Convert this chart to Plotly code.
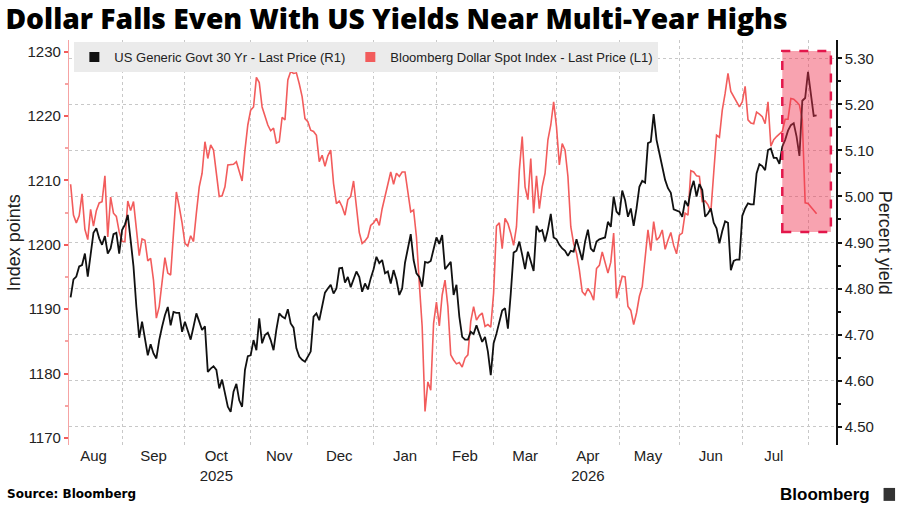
import pandas as pd
import plotly.graph_objects as go

# ---------------- data ----------------
start_date = "2025-08-06"

yield_30y = [
    4.781, 4.820, 4.826, 4.848, 4.851, 4.876, 4.826, 4.876, 4.921, 4.931,
    4.909, 4.895, 4.914, 4.876, 4.887, 4.918, 4.921, 4.876, 4.927, 4.939,
    4.960, 4.905, 4.848, 4.761, 4.693, 4.728, 4.692, 4.655, 4.679, 4.659,
    4.648, 4.688, 4.717, 4.742, 4.760, 4.720, 4.749, 4.747, 4.747, 4.706,
    4.728, 4.706, 4.689, 4.717, 4.746, 4.728, 4.710, 4.718, 4.619, 4.626,
    4.631, 4.623, 4.583, 4.602, 4.568, 4.543, 4.532, 4.576, 4.593, 4.557,
    4.543, 4.623, 4.653, 4.655, 4.688, 4.666, 4.735, 4.681, 4.699, 4.704,
    4.688, 4.666, 4.711, 4.746, 4.739, 4.735, 4.755, 4.724, 4.715, 4.670,
    4.652, 4.645, 4.641, 4.653, 4.663, 4.739, 4.746, 4.731, 4.760, 4.791,
    4.800, 4.808, 4.789, 4.800, 4.844, 4.845, 4.813, 4.825, 4.803, 4.822,
    4.837, 4.825, 4.793, 4.811, 4.798, 4.822, 4.842, 4.869, 4.855, 4.862,
    4.833, 4.837, 4.811, 4.840, 4.819, 4.786, 4.800, 4.856, 4.887, 4.918,
    4.862, 4.833, 4.825, 4.804, 4.858, 4.856, 4.860, 4.887, 4.911, 4.897,
    4.916, 4.842, 4.849, 4.858, 4.786, 4.808, 4.739, 4.695, 4.689, 4.689,
    4.706, 4.701, 4.720, 4.704, 4.684, 4.695, 4.663, 4.612, 4.681, 4.702,
    4.728, 4.752, 4.757, 4.713, 4.789, 4.878, 4.882, 4.902, 4.873, 4.842,
    4.880, 4.860, 4.838, 4.936, 4.924, 4.927, 4.902, 4.928, 4.962, 4.911,
    4.907, 4.895, 4.887, 4.882, 4.871, 4.882, 4.880, 4.907, 4.887, 4.862,
    4.902, 4.928, 4.887, 4.880, 4.902, 4.907, 4.909, 4.911, 4.945, 4.934,
    5.000, 4.967, 4.960, 5.013, 4.992, 4.956, 4.974, 4.936, 4.974, 5.021,
    5.034, 5.030, 5.116, 5.119, 5.179, 5.123, 5.094, 5.065, 5.036, 5.018,
    5.008, 4.972, 4.969, 4.967, 4.956, 4.991, 4.979, 5.014, 5.034, 5.000,
    5.027, 5.014, 4.956, 4.963, 4.974, 4.943, 4.931, 4.898, 4.925, 4.946,
    4.943, 4.840, 4.860, 4.863, 4.863, 4.958, 4.974, 4.985, 4.983, 4.983,
    5.050, 5.070, 5.066, 5.057, 5.101, 5.104, 5.084, 5.084, 5.071, 5.108,
    5.123, 5.143, 5.155, 5.159, 5.130, 5.088, 5.208, 5.214, 5.271, 5.224,
    5.175, 5.176,
]

dollar_index = [
    1209.4, 1204.6, 1203.4, 1204.5, 1207.9, 1202.4, 1200.8, 1205.5, 1202.9, 1205.3,
    1206.5, 1206.7, 1210.7, 1201.2, 1207.4, 1204.9, 1204.4, 1202.0, 1200.5, 1200.5,
    1206.8, 1205.3, 1206.7, 1202.3, 1198.3, 1200.9, 1200.7, 1197.5, 1197.9, 1194.5,
    1188.6, 1190.4, 1194.5, 1198.0, 1195.6, 1195.3, 1201.8, 1208.2, 1205.9, 1203.4,
    1200.2, 1199.8, 1201.4, 1200.5, 1204.9, 1209.0, 1211.1, 1216.0, 1213.4, 1215.5,
    1214.7, 1211.1, 1207.5, 1207.6, 1209.0, 1212.4, 1212.4, 1212.5, 1212.9, 1211.3,
    1209.9, 1214.7, 1218.6, 1220.9, 1221.4, 1226.0, 1225.2, 1221.4, 1219.8, 1218.6,
    1217.7, 1218.1, 1215.8, 1216.0, 1219.8, 1219.4, 1225.6, 1226.9, 1226.6, 1226.7,
    1225.0, 1223.0, 1219.6, 1219.1, 1217.8, 1217.6, 1217.0, 1212.9, 1213.9, 1212.2,
    1213.8, 1214.7, 1209.5, 1206.4, 1206.8, 1205.9, 1204.6, 1207.0, 1207.5, 1209.9,
    1205.9, 1201.9, 1200.2, 1200.6, 1201.2, 1203.0, 1203.4, 1204.1, 1203.0, 1205.6,
    1207.5, 1209.5, 1211.3, 1209.4, 1211.1, 1210.6, 1211.3, 1211.3, 1208.5, 1205.1,
    1205.4, 1201.2, 1194.0, 1187.3, 1174.1, 1178.7, 1177.4, 1187.8, 1191.1, 1187.4,
    1192.2, 1194.5, 1190.4, 1182.9, 1182.1, 1181.5, 1181.7, 1181.0, 1182.4, 1182.9,
    1188.1, 1190.4, 1188.3, 1189.0, 1189.4, 1187.3, 1187.6, 1187.2, 1192.5, 1202.9,
    1203.4, 1199.4, 1204.1, 1203.3, 1201.8, 1199.9, 1202.8, 1211.6, 1216.8, 1209.0,
    1207.0, 1213.4, 1204.9, 1210.7, 1205.6, 1209.0, 1211.1, 1216.3, 1218.6, 1222.2,
    1218.3, 1212.4, 1215.7, 1214.7, 1210.6, 1202.8, 1200.2, 1198.7, 1196.1, 1192.7,
    1192.2, 1193.2, 1192.5, 1191.4, 1196.3, 1196.8, 1198.9, 1197.3, 1195.6, 1197.3,
    1201.8, 1191.7, 1193.5, 1195.1, 1195.0, 1190.4, 1189.8, 1187.6, 1189.4, 1192.0,
    1193.5, 1198.1, 1202.3, 1199.1, 1203.6, 1200.7, 1201.2, 1202.3, 1199.3, 1200.7,
    1201.9, 1199.9, 1198.6, 1201.5, 1201.8, 1204.9, 1204.6, 1211.5, 1211.3, 1210.7,
    1210.6, 1206.7, 1206.8, 1206.2, 1205.1, 1211.1, 1217.0, 1216.7, 1220.9, 1223.5,
    1226.6, 1223.8, 1223.0, 1222.2, 1221.4, 1222.2, 1224.6, 1219.4, 1218.9, 1218.8,
    1220.6, 1220.3, 1219.9, 1218.8, 1222.2, 1215.3, 1216.3, 1216.8, 1217.2, 1217.6,
    1219.5, 1219.5, 1222.7, 1222.6, 1222.2, 1221.7, 1219.4, 1206.5, 1206.4, 1205.9,
    1205.3, 1204.8,
]

series_names = [
    "US Generic Govt 30 Yr - Last Price (R1)",
    "Bloomberg Dollar Spot Index - Last Price (L1)",
]

month_label_dates = [
    "2025-08-18", "2025-09-16", "2025-10-16", "2025-11-17", "2025-12-16", "2026-01-16",
    "2026-02-16", "2026-03-17", "2026-04-16", "2026-05-15", "2026-06-16", "2026-07-16",
]
month_labels = ["Aug", "Sep", "Oct<br>2025", "Nov", "Dec", "Jan",
                "Feb", "Mar", "Apr<br>2026", "May", "Jun", "Jul"]
month_start_dates = [
    "2025-09-01", "2025-10-01", "2025-11-03", "2025-12-01", "2026-01-01", "2026-02-02",
    "2026-03-02", "2026-04-01", "2026-05-01", "2026-06-01", "2026-07-01", "2026-08-03",
]

highlight_dates = ["2026-07-21", "2026-08-13"]
highlight_yields = [4.923, 5.316]

# ---------------- figure ----------------
dates = pd.bdate_range(start=start_date, periods=len(yield_30y))
dates_red = pd.bdate_range(start=start_date, periods=len(dollar_index))

BLACK = "#111111"
RED = "#f25c5c"
FONT = "Liberation Sans, Arial, sans-serif"

fig = go.Figure()

fig.add_trace(go.Scatter(
    x=dates_red, y=dollar_index, mode="lines", yaxis="y",
    line=dict(color=RED, width=1.6), showlegend=False, hoverinfo="skip",
))
fig.add_trace(go.Scatter(
    x=dates, y=yield_30y, mode="lines", yaxis="y2",
    line=dict(color=BLACK, width=1.8), showlegend=False, hoverinfo="skip",
))
# legend entries with square swatches
fig.add_trace(go.Scatter(
    x=[None], y=[None], mode="markers", name=series_names[0],
    marker=dict(symbol="square", size=10, color=BLACK), yaxis="y2",
))
fig.add_trace(go.Scatter(
    x=[None], y=[None], mode="markers", name=series_names[1],
    marker=dict(symbol="square", size=10, color=RED), yaxis="y",
))

fig.add_shape(
    type="rect", xref="x", yref="y2",
    x0=highlight_dates[0], x1=highlight_dates[1],
    y0=highlight_yields[0], y1=highlight_yields[1],
    fillcolor="rgba(240,50,80,0.45)",
    line=dict(color="#e3174b", width=2.5, dash="dash"),
    layer="above",
)

fig.update_layout(
    width=900, height=506,
    margin=dict(l=69, r=64, t=40, b=61),
    paper_bgcolor="white", plot_bgcolor="white",
    font=dict(family=FONT, color="#222222", size=15),
    title=dict(
        text="Dollar Falls Even With US Yields Near Multi-Year Highs",
        x=0.006, xanchor="left", y=0.962, yanchor="middle",
        font=dict(family="Open Sans, sans-serif", size=28.2, weight=800, color="#000000"),
    ),
    legend=dict(
        orientation="h", x=0.007, y=0.995, xanchor="left", yanchor="top",
        bgcolor="#ebebeb", font=dict(size=13, color="#222222"),
        itemwidth=30, tracegroupgap=0,
    ),
    xaxis=dict(
        type="date",
        range=["2025-08-05 10:30", "2026-08-14 19:00"],
        rangebreaks=[dict(bounds=["sat", "mon"])],
        tickmode="array", tickvals=month_label_dates, ticktext=month_labels,
        ticks="", showgrid=False, showline=False, zeroline=False,
        tickfont=dict(size=15, color="#222222"),
        minor=dict(tickmode="array", tickvals=month_start_dates, showgrid=True,
                   griddash="dot", gridcolor="#c8c8c8", gridwidth=1, ticks=""),
    ),
    yaxis=dict(
        range=[1168.9, 1231.8], tick0=1170, dtick=10,
        ticks="outside", ticklen=4, tickwidth=1.5, tickcolor=RED,
        showline=True, linecolor="#f6a3a3", linewidth=1.2,
        showgrid=False, zeroline=False,
        tickfont=dict(size=15, color="#222222"),
        minor=dict(dtick=5, tick0=1170, ticks="outside", ticklen=3, tickcolor="#f6a3a3", showgrid=False),
    ),
    yaxis2=dict(
        overlaying="y", side="right",
        range=[4.46, 5.34], tick0=4.5, dtick=0.1, tickformat=".2f",
        ticks="outside", ticklen=4, tickwidth=1.5, tickcolor="#111111",
        showline=True, linecolor="#111111", linewidth=1.5,
        showgrid=True, griddash="dot", gridcolor="#c8c8c8", gridwidth=1,
        zeroline=False,
        tickfont=dict(size=15, color="#222222"),
        minor=dict(dtick=0.05, tick0=4.5, ticks="outside", ticklen=3, tickcolor="#111111", showgrid=False),
    ),
    annotations=[
        dict(text="Index points", xref="paper", yref="paper", x=-0.072, y=0.5,
             xanchor="center", yanchor="middle", textangle=-90, showarrow=False,
             font=dict(size=18, color="#222222")),
        dict(text="Percent yield", xref="paper", yref="paper", x=1.065, y=0.5,
             xanchor="center", yanchor="middle", textangle=90, showarrow=False,
             font=dict(size=18, color="#222222")),
        dict(text="<b>Source: Bloomberg</b>", xref="paper", yref="paper",
             x=-0.084, y=-0.122, xanchor="left", yanchor="middle", showarrow=False,
             font=dict(family="DejaVu Sans, sans-serif", size=12, color="#000000")),
        dict(text="<b>Bloomberg</b>", xref="paper", yref="paper",
             x=1.047, y=-0.122, xanchor="right", yanchor="middle", showarrow=False,
             font=dict(family=FONT, size=17, color="#000000")),
    ],
)

# small Bloomberg glyph box next to the wordmark
fig.add_shape(type="rect", xref="paper", yref="paper",
              x0=1.062, x1=1.077, y0=-0.138, y1=-0.106,
              fillcolor="#333333", line=dict(width=0))

fig.write_html("out.html", config={"displayModeBar": False},
               post_script="document.body.style.margin='0';")
